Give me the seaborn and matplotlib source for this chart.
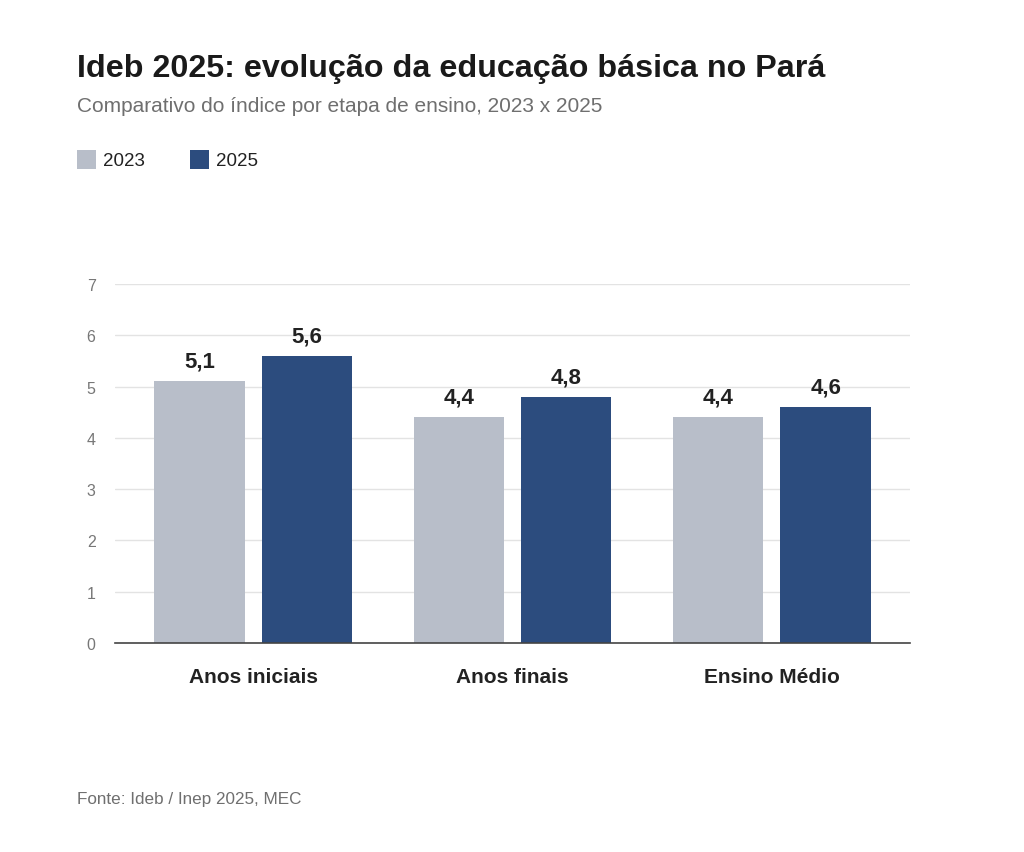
import matplotlib
matplotlib.use("Agg")
import matplotlib.pyplot as plt
import seaborn as sns
import pandas as pd
from matplotlib.patches import Rectangle

categories = ["Anos iniciais", "Anos finais", "Ensino Médio"]
years = ["2023", "2025"]
values_2023 = [5.1, 4.4, 4.4]
values_2025 = [5.6, 4.8, 4.6]
y_ticks = [0, 1, 2, 3, 4, 5, 6, 7]

colors = {"2023": "#b8bec9", "2025": "#2c4c7e"}

df = pd.DataFrame({
    "etapa": categories * 2,
    "ano": ["2023"] * 3 + ["2025"] * 3,
    "ideb": values_2023 + values_2025,
})

sns.set_theme(style="white")
plt.rcParams["font.family"] = ["Liberation Sans", "DejaVu Sans"]

fig = plt.figure(figsize=(10.24, 8.53), dpi=100)
ax = fig.add_axes([115 / 1024, 1 - 644 / 853, (910 - 115) / 1024, (644 - 285) / 853])

sns.barplot(data=df, x="etapa", y="ideb", hue="ano", order=categories,
            hue_order=years, palette=colors, width=0.83, gap=0.16,
            saturation=1, ax=ax, legend=False, zorder=3, linewidth=0)

ax.set_ylim(0, 7)
ax.set_xlim(-0.533, 2.533)
ax.set_yticks(y_ticks)
ax.set_yticklabels([str(t) for t in y_ticks])
ax.yaxis.grid(True, color="#e3e3e3", linewidth=1, zorder=0)
ax.set_axisbelow(True)
for s in ["left", "right", "top"]:
    ax.spines[s].set_visible(False)
ax.spines["bottom"].set_color("#444444")
ax.spines["bottom"].set_linewidth(1.2)
ax.spines["bottom"].set_zorder(4)
ax.tick_params(axis="y", length=0, pad=14, labelsize=11.5, labelcolor="#777777")
ax.tick_params(axis="x", length=0, pad=17, labelsize=15, labelcolor="#222222")
for lbl in ax.get_xticklabels():
    lbl.set_fontweight("bold")
ax.set_xlabel("")
ax.set_ylabel("")

for container in ax.containers:
    labels = [f"{v:.1f}".replace(".", ",") for v in container.datavalues]
    ax.bar_label(container, labels=labels, padding=7, fontsize=16,
                 fontweight="bold", color="#222222")

fig.text(77 / 1024, 1 - 68.5 / 853, "Ideb 2025: evolução da educação básica no Pará",
         fontsize=23.2, fontweight="bold", color="#1a1a1a", va="center", ha="left")
fig.text(77 / 1024, 1 - 107 / 853, "Comparativo do índice por etapa de ensino, 2023 x 2025",
         fontsize=15, color="#6f6f6f", va="center", ha="left")

# legend
for i, (yr, x0) in enumerate(zip(years, [77, 190])):
    fig.patches.append(Rectangle((x0 / 1024, 1 - 170 / 853), 19 / 1024, 19 / 853,
                                 transform=fig.transFigure, facecolor=colors[yr],
                                 edgecolor="none"))
    fig.text((x0 + 26) / 1024, 1 - 161 / 853, yr, fontsize=13.5, color="#222222",
             va="center", ha="left")

fig.text(77 / 1024, 1 - 800 / 853, "Fonte: Ideb / Inep 2025, MEC",
         fontsize=12.3, color="#6f6f6f", va="center", ha="left")

fig.savefig("out.png", dpi=100, facecolor="white")
